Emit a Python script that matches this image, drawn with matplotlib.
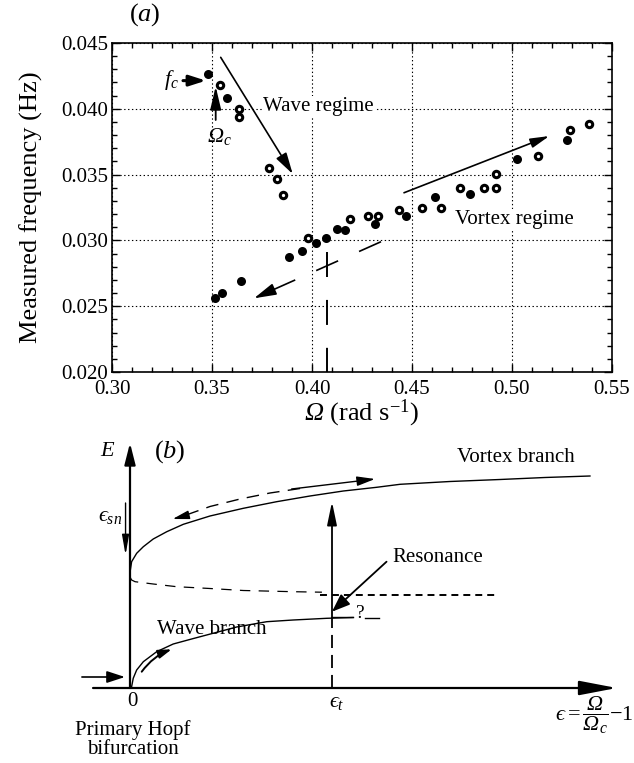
import numpy as np
import matplotlib.pyplot as plt
from matplotlib.ticker import MultipleLocator, FormatStrFormatter

plt.rcParams['font.family'] = ['Liberation Serif', 'DejaVu Serif']
plt.rcParams['mathtext.fontset'] = 'custom'
plt.rcParams['mathtext.rm'] = 'Liberation Serif'
plt.rcParams['mathtext.it'] = 'Liberation Serif:italic'
plt.rcParams['mathtext.cal'] = 'Liberation Serif:italic'   # used for the italic capital Omega
plt.rcParams['mathtext.fallback'] = 'stix'
plt.rcParams['lines.scale_dashes'] = False

# (a) measured frequency against rotation rate
omega_filled = [0.3479, 0.3577, 0.3515, 0.3551, 0.3645, 0.3885, 0.3949, 0.4022,
                0.4072, 0.4124, 0.4167, 0.4317, 0.4468, 0.4615, 0.4789, 0.5023, 0.5273]
freq_filled = [0.04262, 0.04080, 0.02559, 0.02602, 0.02690, 0.02873, 0.02918, 0.02982,
               0.03022, 0.03088, 0.03080, 0.03122, 0.03188, 0.03332, 0.03353, 0.03621, 0.03763]
omega_open = [0.3542, 0.3633, 0.3633, 0.3787, 0.3826, 0.3854, 0.3979, 0.4192, 0.4282,
              0.4332, 0.4437, 0.4550, 0.4645, 0.4738, 0.4860, 0.4920, 0.4920, 0.5131,
              0.5291, 0.5384]
freq_open = [0.04178, 0.03996, 0.03938, 0.03548, 0.03464, 0.03344, 0.03018, 0.03160, 0.03185,
             0.03185, 0.03231, 0.03249, 0.03249, 0.03396, 0.03396, 0.03396, 0.03502, 0.03639,
             0.03839, 0.03885]

# (b) schematic bifurcation diagram (eps in units of eps_t, E arbitrary)
vortex_eps = [0.0, 0.001, 0.008, 0.033, 0.066, 0.115, 0.182, 0.264, 0.396, 0.561,
              0.726, 0.891, 1.056, 1.221, 1.337, 1.584, 1.832, 2.054, 2.277]
vortex_E = [1.11, 1.17, 1.263, 1.347, 1.413, 1.49, 1.563, 1.637, 1.72, 1.797,
            1.863, 1.92, 1.97, 2.007, 2.037, 2.065, 2.085, 2.105, 2.12]
unstable_eps = [0.0, 0.008, 0.025, 0.115, 0.231, 0.396, 0.561, 0.808, 0.95]
unstable_E = [1.11, 1.08, 1.063, 1.04, 1.013, 0.995, 0.975, 0.963, 0.958]
wave_eps = [0.005, 0.008, 0.016, 0.033, 0.066, 0.132, 0.214, 0.305, 0.528, 0.677, 0.808, 0.974, 1.104]
wave_E = [0.0, 0.013, 0.097, 0.18, 0.263, 0.363, 0.44, 0.49, 0.61, 0.663, 0.68, 0.697, 0.705]
back_eps = [0.842, 0.693, 0.545, 0.396, 0.25]
back_E = [1.995, 1.95, 1.89, 1.815, 1.71]
eps_t = 1.0
E_res = 0.935

fig = plt.figure(figsize=(6.34, 7.63), dpi=100)


def arrow(ax, start, end, hl, hw, lw=1.0, **kw):
    ax.annotate('', xy=end, xytext=start,
                arrowprops=dict(arrowstyle='-|>,head_length=%g,head_width=%g' % (hl, hw),
                                mutation_scale=1, lw=lw, color='k',
                                shrinkA=0, shrinkB=0, **kw))


# ---------------- panel (a) ----------------
ax = fig.add_axes([112 / 634, 1 - 372 / 763, 500 / 634, 329 / 763])
ax.set_xlim(0.30, 0.55)
ax.set_ylim(0.020, 0.045)
ax.xaxis.set_major_locator(MultipleLocator(0.05))
ax.xaxis.set_minor_locator(MultipleLocator(0.01))
ax.yaxis.set_major_locator(MultipleLocator(0.005))
ax.yaxis.set_minor_locator(MultipleLocator(0.001))
ax.xaxis.set_major_formatter(FormatStrFormatter('%.2f'))
ax.yaxis.set_major_formatter(FormatStrFormatter('%.3f'))
ax.tick_params(which='both', direction='in', top=True, right=True, labelsize=15, width=1)
ax.tick_params(which='major', length=6)
ax.tick_params(which='minor', length=3.5)
ax.tick_params(axis='y', pad=3)
ax.tick_params(axis='x', pad=6)
for s in ax.spines.values():
    s.set_linewidth(1.2)
ax.grid(True, which='major', color='k', linestyle=(0, (1, 1.8)), linewidth=0.8)

ax.plot(omega_filled, freq_filled, 'o', color='k', markersize=6.5, markeredgewidth=0, zorder=3)
ax.plot(omega_open, freq_open, 'o', markerfacecolor='white', markeredgecolor='k',
        markersize=4.6, markeredgewidth=2.2, zorder=3)

ax.text(0.5, -0.125, r'$\mathcal{\Omega}$ (rad s$^{-1}$)', transform=ax.transAxes,
        ha='center', va='center', fontsize=19)
ax.text(-0.162, 0.5, 'Measured frequency (Hz)', transform=ax.transAxes, rotation=90,
        ha='center', va='center', fontsize=19)
fig.text(145 / 634, 1 - 15 / 763, r'$(a)$', ha='center', va='center', fontsize=19)

ax.text(0.3295, 0.04219, r'$f_c$', ha='center', va='center', fontsize=16)
arrow(ax, (0.3355, 0.04214), (0.3470, 0.04214), 10, 3.2, lw=2.2)
ax.text(0.3535, 0.03793, r'$\mathcal{\Omega}_c$', ha='center', va='center', fontsize=16)
arrow(ax, (0.35185, 0.03915), (0.35185, 0.04170), 14, 3.3, lw=1.3)

arrow(ax, (0.35435, 0.04391), (0.39035, 0.03505), 13, 3.6, lw=1.2)
ax.text(0.3757, 0.04016, 'Wave regime', ha='left', va='center', fontsize=15,
        bbox=dict(facecolor='white', edgecolor='none', pad=1))
arrow(ax, (0.4460, 0.03362), (0.51865, 0.03793), 11.5, 2.9, lw=1.2)
ax.text(0.4715, 0.0316, 'Vortex regime', ha='left', va='center', fontsize=15,
        bbox=dict(facecolor='white', edgecolor='none', pad=0.5))

# dashed transition line with arrow
x0, y0, x1, y1 = 0.4345, 0.0299, 0.3710, 0.0256
ax.plot([x0, x1], [y0, y1], color='k', lw=1.2, linestyle=(0, (17.3, 16.5)))
arrow(ax, (x1 + 0.16 * (x0 - x1), y1 + 0.16 * (y0 - y1)), (x1, y1), 13.5, 3.6, lw=1.2)
ax.plot([0.4073, 0.4073], [0.02912, 0.020], color='k', lw=1.4, linestyle=(0, (18, 16.5)))

# ---------------- panel (b) ----------------
bx = fig.add_axes([0, 0, 1, 333 / 763])
bx.set_xlim(-130 / 202, 504 / 202)
bx.set_ylim(-0.75, 2.58)
bx.axis('off')

arrow(bx, (0, 0), (0, 2.45), 13, 3.3, lw=1.6)
arrow(bx, (-0.183, 0), (2.41, 0), 23, 4.4, lw=1.6)
arrow(bx, (-0.238, 0.11), (-0.025, 0.11), 11, 3.6, lw=1.2)
arrow(bx, (-0.022, 1.85), (-0.022, 1.33), 12, 2.1, lw=1.0)

bx.plot(vortex_eps, vortex_E, color='k', lw=1.0)
bx.plot(unstable_eps, unstable_E, color='k', lw=0.9, linestyle=(0, (7.5, 6)))
bx.plot(wave_eps, wave_E, color='k', lw=1.0)
bx.plot([0.94, 1.817], [E_res, E_res], color='k', lw=1.4, linestyle=(0, (5, 3.6)))

bx.plot(back_eps, back_E, color='k', lw=1.0, linestyle=(0, (9, 6)))
arrow(bx, (back_eps[-1], back_E[-1]), (0.211, 1.69), 10, 2.6, lw=1.0)
arrow(bx, (0.80, 1.99), (1.213, 2.09), 11, 2.9, lw=1.0)
arrow(bx, (0.058, 0.163), (0.206, 0.387), 8, 2.6, lw=1.4, connectionstyle='arc3,rad=-0.15')

bx.plot([eps_t, eps_t], [0, 0.707], color='k', lw=1.3, linestyle=(0, (9.4, 5)))
arrow(bx, (eps_t, 0.707), (eps_t, 1.863), 14, 2.9, lw=1.3)
bx.plot([eps_t, 1.104], [0.707, 0.707], color='k', lw=1.0)
bx.plot([1.163, 1.233], [0.703, 0.703], color='k', lw=1.0)
bx.text(1.139, 0.75, '?', ha='center', va='center', fontsize=14)
arrow(bx, (1.27, 1.263), (eps_t, 0.763), 11, 4.2, lw=1.3)

bx.text(-0.109, 2.36, r'$E$', ha='center', va='center', fontsize=16)
bx.text(0.198, 2.36, r'$(b)$', ha='center', va='center', fontsize=19)
bx.text(-0.04, 1.71, '$ϵ_{sn}$', ha='right', va='center', fontsize=16)
bx.text(0.01, -0.14, '0', ha='center', va='center', fontsize=15)
bx.text(0.015, -0.515, 'Primary Hopf\nbifurcation', ha='center', va='center',
        fontsize=15, linespacing=1.0)
bx.text(1.025, -0.15, '$ϵ_t$', ha='center', va='center', fontsize=16)
bx.text(2.495, -0.27, r'$ϵ = \dfrac{\mathcal{\Omega}}{\mathcal{\Omega}_c}{-}1$',
        ha='right', va='center', fontsize=16)
bx.text(1.619, 2.30, 'Vortex branch', ha='left', va='center', fontsize=15)
bx.text(1.30, 1.31, 'Resonance', ha='left', va='center', fontsize=15)
bx.text(0.134, 0.58, 'Wave branch', ha='left', va='center', fontsize=15)

fig.savefig('out.png', dpi=100)
